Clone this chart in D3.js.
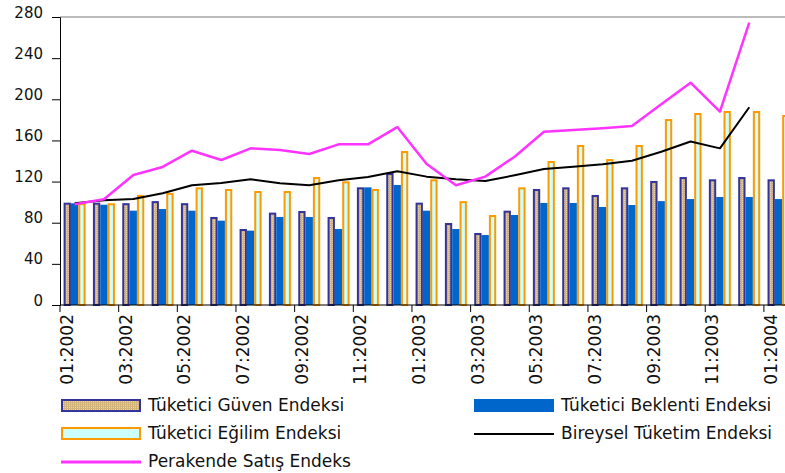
<!DOCTYPE html>
<html>
<head>
<meta charset="utf-8">
<script src="https://cdn.jsdelivr.net/npm/d3@7"></script>
<style>
  body { margin: 0; background: #fff; }
  svg { display: block; font-family: "DejaVu Sans", Verdana, sans-serif; }
</style>
</head>
<body>
<div id="chart"></div>
<script>
// months on the category axis
var months = ["01:2002", "02:2002", "03:2002", "04:2002", "05:2002", "06:2002", "07:2002", "08:2002",
    "09:2002", "10:2002", "11:2002", "12:2002", "01:2003", "02:2003", "03:2003", "04:2003",
    "05:2003", "06:2003", "07:2003", "08:2003", "09:2003", "10:2003", "11:2003", "12:2003", "01:2004"];

var guven = [99.5, 99.5, 99, 101, 99, 85.6, 73.9, 89.8, 91.4, 85.6, 114.4, 128.3,
    99.5, 79.7, 70, 91.7, 112.8, 114.4, 107, 114.4, 120.6, 124.4, 122.2, 124.4, 122.2];
var beklenti = [98.9, 97.5, 91.7, 93.3, 91.7, 82, 72.3, 85.6, 85.6, 73.9, 114.4, 116.7,
    91.7, 73.9, 68, 87.5, 99.2, 99.2, 95.3, 97.2, 101, 103, 105, 105, 103];
var egilim = [99, 98.9, 107, 109, 114.4, 112.8, 110.8, 110.8, 124.4, 120.2, 112.8, 149.7,
    122.2, 101, 87.5, 114.4, 140, 155.6, 141.9, 155.6, 180.8, 186.7, 188.6, 188.6, 184.7];
var bireysel = [99, 101.8, 103, 108.6, 116.4, 118.6, 122.2, 118.3, 116.4, 121.2, 124.4, 130,
    124.8, 122.2, 120.6, 126.1, 132.2, 134.5, 136.8, 140.3, 149, 159, 152.3, 192.3, null];
var perakende = [98, 102.8, 126.4, 134.2, 150, 141, 152.3, 150.7, 146.8, 156.2, 156.2, 173,
    137, 116.4, 124.8, 144.2, 168.5, 170.1, 171.8, 174, 195.1, 216.1, 188, 274.5, null];

var yTicks = [0, 40, 80, 120, 160, 200, 240, 280];

var width = 785, height = 473;
var plotLeft = 60, plotTop = 17, plotBottom = 305;
var catWidth = 29.33;

var svg = d3.select("#chart").append("svg")
    .attr("width", width)
    .attr("height", height);

// dotted tan fill used by the Güven bars
var defs = svg.append("defs");
var pat = defs.append("pattern")
    .attr("id", "tan")
    .attr("width", 2).attr("height", 2)
    .attr("patternUnits", "userSpaceOnUse");
pat.append("rect").attr("width", 2).attr("height", 2).attr("fill", "#d2b47a");
pat.append("rect").attr("width", 1).attr("height", 1).attr("fill", "#e8d4a4");

var x = d3.scaleBand().domain(months).range([plotLeft, plotLeft + catWidth * months.length]);
var y = d3.scaleLinear().domain([0, 280]).range([plotBottom, plotTop]);

var series = [
    { key: "guven", values: guven, fill: "url(#tan)", stroke: "#333399", sw: 2 },
    { key: "beklenti", values: beklenti, fill: "#0066cc", stroke: "none", sw: 0 },
    { key: "egilim", values: egilim, fill: "#ccffff", stroke: "#ff9900", sw: 2 }
];
var xs = d3.scaleBand().domain(series.map(function (s) { return s.key; }))
    .range([3.6, 3.6 + 22]);

// plot frame
svg.append("line")
    .attr("x1", plotLeft).attr("x2", width)
    .attr("y1", y(280)).attr("y2", y(280))
    .attr("stroke", "#a6a6a6").attr("stroke-width", 1.5);

// bars
series.forEach(function (s) {
    svg.append("g").selectAll("rect")
        .data(s.values)
        .join("rect")
        .attr("x", function (d, i) { return x(months[i]) + xs(s.key) + s.sw / 2; })
        .attr("y", function (d) { return y(d) + s.sw / 2; })
        .attr("width", xs.bandwidth() - s.sw)
        .attr("height", function (d) { return y(0) - y(d) - s.sw / 2; })
        .attr("fill", s.fill)
        .attr("stroke", s.stroke)
        .attr("stroke-width", s.sw);
});

// lines
function drawLine(values, color, w) {
    var line = d3.line()
        .defined(function (d) { return d != null; })
        .x(function (d, i) { return x(months[i]) + x.bandwidth() / 2; })
        .y(function (d) { return y(d); });
    svg.append("path")
        .datum(values)
        .attr("d", line)
        .attr("fill", "none")
        .attr("stroke", color)
        .attr("stroke-width", w)
        .attr("stroke-linejoin", "round");
}
drawLine(bireysel, "#000", 2);
drawLine(perakende, "#ff33ff", 2.5);

// y axis
var yAxis = d3.axisLeft(y).tickValues(yTicks).tickSize(8).tickPadding(9).tickFormat(d3.format("d"));
var yg = svg.append("g")
    .attr("transform", "translate(" + plotLeft + ",0)")
    .call(yAxis);
yg.select(".domain").attr("stroke", "#000");
yg.selectAll(".tick line").attr("stroke", "#000");
yg.selectAll(".tick text")
    .attr("dy", 0)
    .attr("font-size", 15)
    .attr("fill", "#111")
    .attr("font-family", "DejaVu Sans, sans-serif");

// x axis: ticks at every other category boundary, labels under the even months
var xg = svg.append("g");
xg.append("line")
    .attr("x1", plotLeft).attr("x2", width)
    .attr("y1", plotBottom).attr("y2", plotBottom)
    .attr("stroke", "#000");
var labelled = months.filter(function (m, i) { return i % 2 === 0; });
xg.selectAll(".xt")
    .data(labelled)
    .join("line")
    .attr("class", "xt")
    .attr("x1", function (d) { return x(d); })
    .attr("x2", function (d) { return x(d); })
    .attr("y1", plotBottom).attr("y2", plotBottom + 7)
    .attr("stroke", "#000");
xg.selectAll(".xl")
    .data(labelled)
    .join("text")
    .attr("class", "xl")
    .attr("transform", function (d) {
        return "translate(" + (x(d) + x.bandwidth() / 2 - 1.5) + "," + (plotBottom + 9) + ") rotate(-90)";
    })
    .attr("text-anchor", "end")
    .attr("font-size", 17)
    .attr("fill", "#111")
    .text(function (d) { return d; });

// legend
var legend = svg.append("g").attr("font-size", 17).attr("fill", "#111");
var items = [
    { label: "Tüketici Güven Endeksi", kind: "rect", fill: "url(#tan)", stroke: "#333399", x: 61, y: 399 },
    { label: "Tüketici Beklenti Endeksi", kind: "rect", fill: "#0066cc", stroke: "none", x: 474, y: 399 },
    { label: "Tüketici Eğilim Endeksi", kind: "rect", fill: "#ccffff", stroke: "#ff9900", x: 61, y: 427 },
    { label: "Bireysel Tüketim Endeksi", kind: "line", stroke: "#000", sw: 2, x: 474, y: 427 },
    { label: "Perakende Satış Endeks", kind: "line", stroke: "#ff33ff", sw: 3, x: 61, y: 455 }
];
items.forEach(function (it) {
    var g = legend.append("g").attr("transform", "translate(" + it.x + "," + it.y + ")");
    if (it.kind === "rect") {
        var sw = it.stroke === "none" ? 0 : 2;
        g.append("rect")
            .attr("x", sw / 2).attr("y", sw / 2)
            .attr("width", 80 - sw).attr("height", 13 - sw)
            .attr("fill", it.fill)
            .attr("stroke", it.stroke)
            .attr("stroke-width", sw);
    } else {
        g.append("line")
            .attr("x1", 0).attr("x2", 80)
            .attr("y1", 7).attr("y2", 7)
            .attr("stroke", it.stroke)
            .attr("stroke-width", it.sw);
    }
    g.append("text")
        .attr("x", 87)
        .attr("y", 12)
        .text(it.label);
});
</script>
</body>
</html>
